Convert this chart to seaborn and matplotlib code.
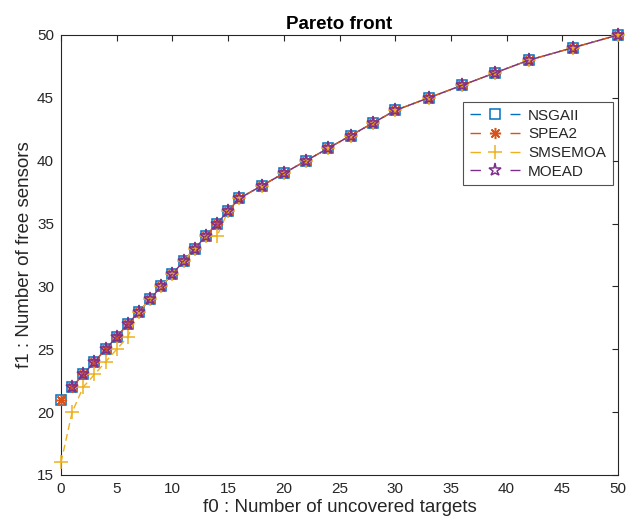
import matplotlib
matplotlib.use("Agg")
import matplotlib.pyplot as plt
import seaborn as sns
import pandas as pd

# Data
front_x = [0, 1, 2, 3, 4, 5, 6, 7, 8, 9, 10, 11, 12, 13, 14, 15, 16, 18, 20,
           22, 24, 26, 28, 30, 33, 36, 39, 42, 46, 50]
front_y = [21, 22, 23, 24, 25, 26, 27, 28, 29, 30, 31, 32, 33, 34, 35, 36, 37, 38, 39,
           40, 41, 42, 43, 44, 45, 46, 47, 48, 49, 50]

nsgaii_x = front_x
nsgaii_y = front_y
spea2_x = front_x
spea2_y = front_y
smsemoa_x = [0, 1, 2, 3, 4, 5, 6, 7, 8, 9, 10, 11, 12, 13, 14, 15, 16, 18, 20,
             22, 24, 26, 28, 30, 33, 36, 39, 42, 46, 50]
smsemoa_y = [16, 20, 22, 23, 24, 25, 26, 28, 29, 30, 31, 32, 33, 34, 34, 36, 37, 38, 39,
             40, 41, 42, 43, 44, 45, 46, 47, 48, 49, 50]
moead_x = front_x[1:]
moead_y = front_y[1:]

names = ["NSGAII", "SPEA2", "SMSEMOA", "MOEAD"]
xs = [nsgaii_x, spea2_x, smsemoa_x, moead_x]
ys = [nsgaii_y, spea2_y, smsemoa_y, moead_y]

x_ticks = list(range(0, 51, 5))
y_ticks = list(range(15, 51, 5))

sns.set_style("white")
plt.rcParams['font.family'] = ['Liberation Sans', 'DejaVu Sans']

colors = ["#0072BD", "#D95319", "#EDB120", "#7E2F8E"]
markers = ["s", (8, 2, 0), "+", "*"]
msizes = [6.5, 8, 10, 9.5]

fig = plt.figure(figsize=(6.28, 5.32), dpi=100)
ax = fig.add_axes([61 / 628, 1 - 475 / 532, (618 - 61) / 628, (475 - 35) / 532])

for name, x, y, c, m, ms in zip(names, xs, ys, colors, markers, msizes):
    df = pd.DataFrame({"x": x, "y": y})
    sns.lineplot(data=df, x="x", y="y", ax=ax, color=c, label=name,
                 linestyle="--", dashes=False, linewidth=1.0,
                 marker=m, markersize=ms, markerfacecolor="none",
                 markeredgecolor=c, markeredgewidth=1.1, sort=False)
    ln = ax.lines[-1]
    ln.set_linestyle((0, (5, 3)))
    ln.set_clip_on(False)

ax.set_xlim(0, 50)
ax.set_ylim(15, 50)
ax.set_xticks(x_ticks)
ax.set_yticks(y_ticks)
ax.tick_params(direction="in", top=True, right=True, length=4, width=0.8,
               colors="#262626", labelsize=11, labelcolor="#262626", pad=5)
for s in ax.spines.values():
    s.set_visible(True)
    s.set_color("#262626")
    s.set_linewidth(0.8)
    s.set_zorder(0.5)

ax.set_xlabel("f0 : Number of uncovered targets", fontsize=13.5, color="#262626", labelpad=2)
ax.set_ylabel("f1 : Number of free sensors", fontsize=13.5, color="#262626", labelpad=3)
ax.set_title("Pareto front", fontsize=13.5, fontweight="bold", color="#000000", pad=4)

leg = ax.legend(loc="upper left", bbox_to_anchor=(0.722, 0.848), fontsize=11,
                frameon=True, fancybox=False, edgecolor="#262626",
                handlelength=3.3, borderpad=0.45, labelspacing=0.3, handletextpad=0.5,
                borderaxespad=0)
leg.get_frame().set_linewidth(0.8)
for h in leg.get_lines():
    h.set_linestyle((0, (7.5, 21.3, 7.5, 60)))

fig.savefig("out.png", dpi=100)
